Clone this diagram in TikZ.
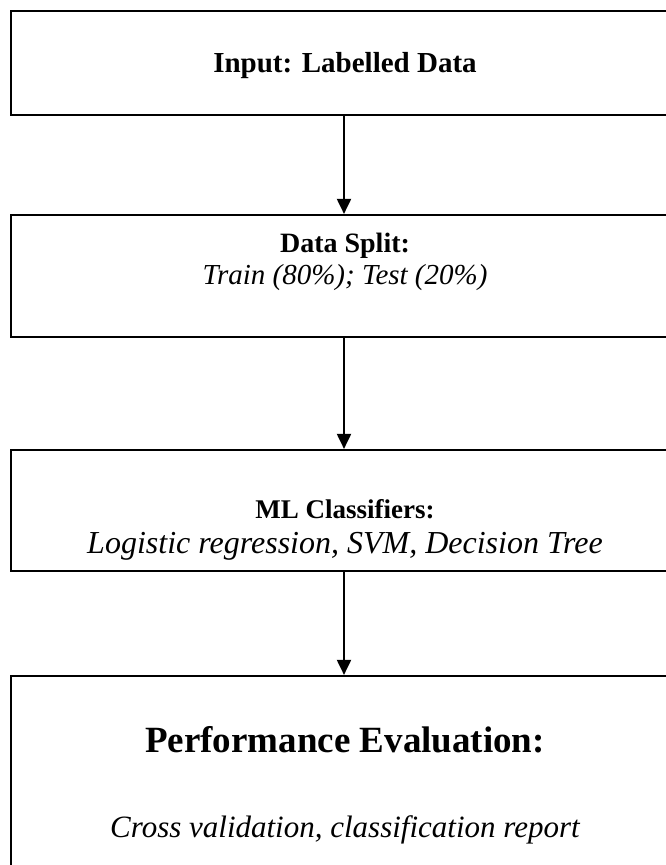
\documentclass[tikz,border=0pt]{standalone}
\usepackage{fontspec}
\setmainfont{Liberation Serif}
\usetikzlibrary{arrows.meta}
\begin{document}
\begin{tikzpicture}[x=1pt,y=-1pt,
  box/.style={draw=black,line width=2.2pt,fill=none,inner sep=0pt,rectangle},
  head/.style={font=\bfseries,inner sep=0pt,anchor=base},
  body/.style={font=\itshape,inner sep=0pt,anchor=base},
  arr/.style={line width=2pt,-{Triangle[length=15pt,width=14pt]}}]
\useasboundingbox (0,0) rectangle (666,865);
\clip (0,0) rectangle (666,865);
\node[box,minimum width=668pt,minimum height=104pt] (b1) at (345,63) {};
\node[box,minimum width=668pt,minimum height=122pt] (b2) at (345,276) {};
\node[box,minimum width=668pt,minimum height=121pt] (b3) at (345,510.5) {};
\node[box,minimum width=668pt,minimum height=240pt] (b4) at (345,796) {};
\node[head] (t1) at (345,72) {\fontsize{29}{29}\selectfont Input: Labelled Data};
\node[head] (t2) at (345,252) {\fontsize{28}{28}\selectfont Data Split:};
\node[body] (s2) at (345,284) {\fontsize{29}{29}\selectfont Train (80\%); Test (20\%)};
\node[head] (t3) at (345,518) {\fontsize{27}{27}\selectfont ML Classifiers:};
\node[body] (s3) at (345,553) {\fontsize{32}{32}\selectfont Logistic regression, SVM, Decision Tree};
\node[head] (t4) at (345,752) {\fontsize{37}{37}\selectfont Performance Evaluation:};
\node[body] (s4) at (345,837) {\fontsize{31}{31}\selectfont Cross validation, classification report};
\draw[arr] (b1.south -| 344,0) -- (b2.north -| 344,0);
\draw[arr] (b2.south -| 344,0) -- (b3.north -| 344,0);
\draw[arr] (b3.south -| 344,0) -- (b4.north -| 344,0);
\end{tikzpicture}
\end{document}
